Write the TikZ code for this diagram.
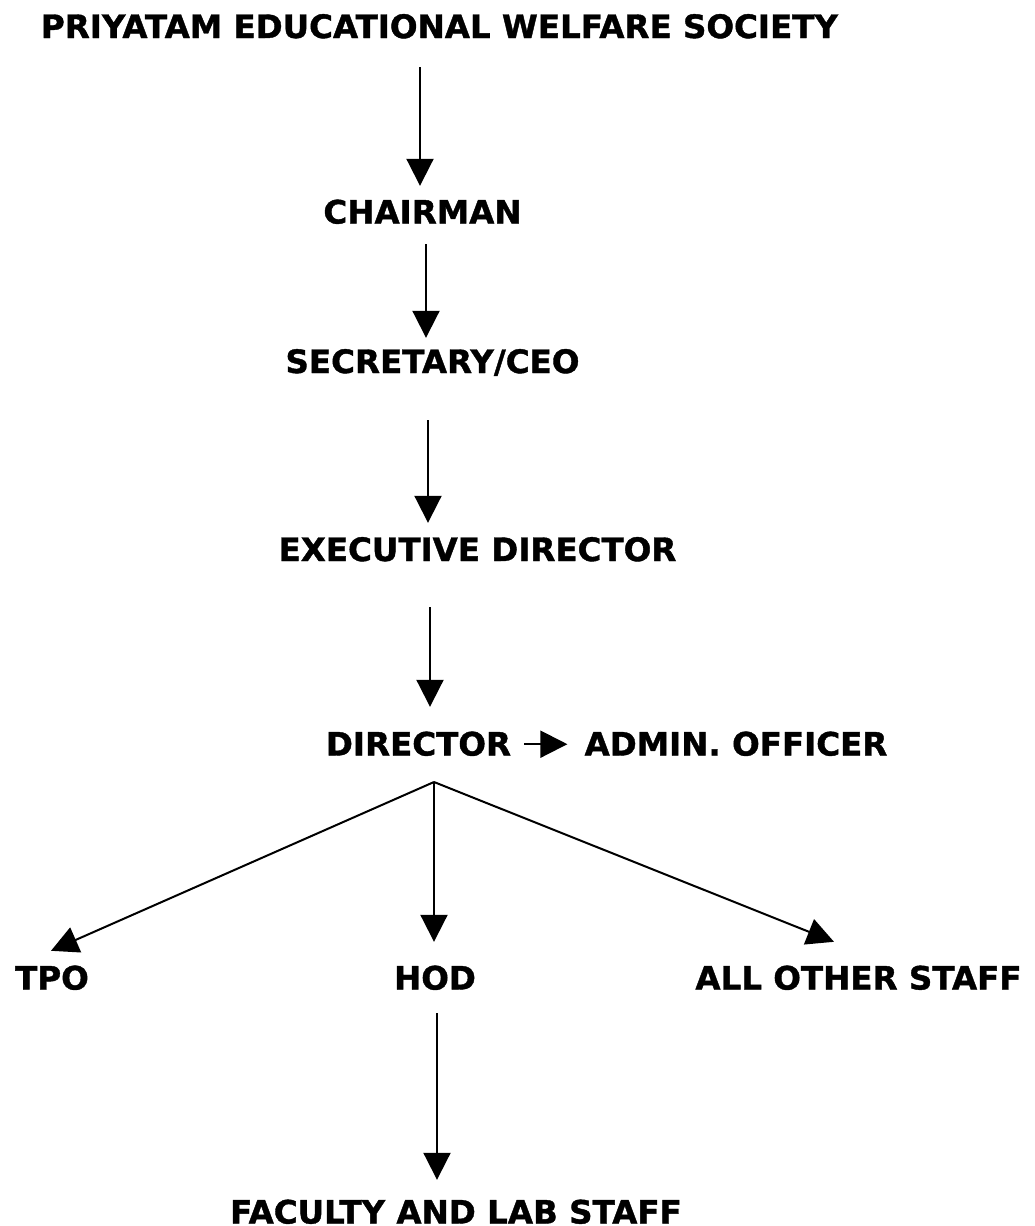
\documentclass[tikz,border=0pt]{standalone}
\usepackage{fontspec}
\setmainfont{DejaVu Sans}[BoldFeatures={FakeBold=1.2,FakeStretch=1.01}]
\usetikzlibrary{arrows.meta}
\begin{document}
\begin{tikzpicture}[x=1pt,y=-1pt,
  lbl/.style={inner sep=0pt, anchor=base, text height=23.5pt, text depth=0pt,
    font=\fontsize{32.2}{38}\selectfont\bfseries},
  arr/.style={line width=2pt, -{Triangle[length=27pt,width=27pt]}},
  ln/.style={line width=2pt}]
\useasboundingbox (0,0) rectangle (1034,1226);
\node[lbl] (title) at (439.5,38) {PRIYATAM EDUCATIONAL WELFARE SOCIETY};
\node[lbl] (chair) at (422.5,223.5) {CHAIRMAN};
\node[lbl] (sec) at (432.5,373) {SECRETARY/CEO};
\node[lbl] (exec) at (477.5,561) {EXECUTIVE DIRECTOR};
\node[lbl] (dir) at (418.5,755.5) {DIRECTOR};
\node[lbl] (admin) at (736,755.5) {ADMIN. OFFICER};
\node[lbl] (tpo) at (52,989.5) {TPO};
\node[lbl] (hod) at (435,989.5) {HOD};
\node[lbl] (aos) at (858.5,989.5) {ALL OTHER STAFF};
\node[lbl] (fac) at (456,1223.5) {FACULTY AND LAB STAFF};
\coordinate (apex) at (434,782);
\draw[arr] ([xshift=-19.5pt,yshift=-29pt]title.south) -- ([xshift=-2.5pt,yshift=14pt]chair.north);
\draw[arr] ([xshift=3.5pt,yshift=-20.5pt]chair.south) -- ([xshift=-6.5pt,yshift=11.5pt]sec.north);
\draw[arr] ([xshift=-4.5pt,yshift=-47pt]sec.south) -- ([xshift=-49.5pt,yshift=14.5pt]exec.north);
\draw[arr] ([xshift=-47.5pt,yshift=-46pt]exec.south) -- ([xshift=11.5pt,yshift=25pt]dir.north);
\draw[arr] ([xshift=13pt,yshift=11.5pt]dir.south east) -- ([xshift=-17pt,yshift=11.5pt]admin.south west);
\draw[arr] (apex) -- ([xshift=-1pt,yshift=15pt]tpo.north);
\draw[arr] (apex) -- ([xshift=-1pt,yshift=24pt]hod.north);
\draw[arr] (apex) -- ([xshift=-24.5pt,yshift=24pt]aos.north);
\draw[arr] ([xshift=2pt,yshift=-23.5pt]hod.south) -- ([xshift=-19pt,yshift=20pt]fac.north);
\end{tikzpicture}
\end{document}
